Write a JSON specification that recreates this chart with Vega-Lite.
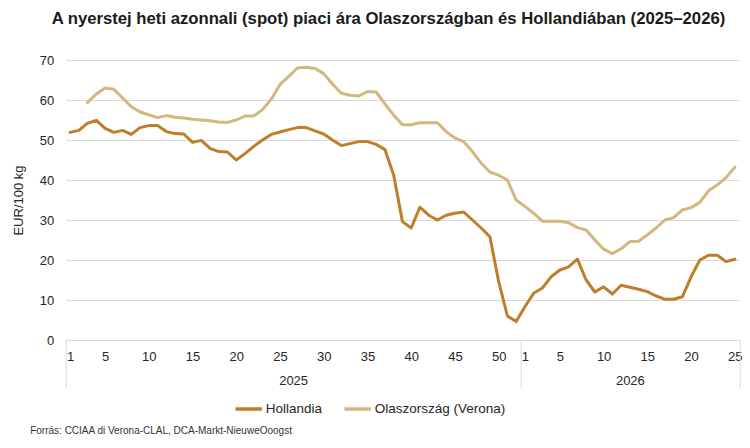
{
  "$schema": "https://vega.github.io/schema/vega-lite/v6.json",
  "width": 673.5,
  "height": 280,
  "autosize": {"type": "none"},
  "padding": {"left": 65.7, "top": 60, "right": 10.8, "bottom": 108},
  "background": "white",
  "config": {
    "font": "Liberation Sans",
    "view": {"stroke": null},
    "axis": {"labelFont": "Liberation Sans", "titleFont": "Liberation Sans"},
    "legend": {"labelFont": "Liberation Sans"}
  },
  "title": {
    "text": "A nyerstej heti azonnali (spot) piaci ára Olaszországban és Hollandiában (2025–2026)",
    "font": "Liberation Sans",
    "fontSize": 16.7,
    "fontWeight": "bold",
    "color": "#1a1a1a",
    "anchor": "middle",
    "dx": -14,
    "offset": 26
  },
  "data": {
    "values": [
      {"idx": 1, "series": "Hollandia", "value": 51.9},
      {"idx": 2, "series": "Hollandia", "value": 52.4},
      {"idx": 3, "series": "Hollandia", "value": 54.2},
      {"idx": 4, "series": "Hollandia", "value": 54.9},
      {"idx": 5, "series": "Hollandia", "value": 52.9},
      {"idx": 6, "series": "Hollandia", "value": 51.9},
      {"idx": 7, "series": "Hollandia", "value": 52.4},
      {"idx": 8, "series": "Hollandia", "value": 51.4},
      {"idx": 9, "series": "Hollandia", "value": 53.1},
      {"idx": 10, "series": "Hollandia", "value": 53.6},
      {"idx": 11, "series": "Hollandia", "value": 53.6},
      {"idx": 12, "series": "Hollandia", "value": 52.1},
      {"idx": 13, "series": "Hollandia", "value": 51.6},
      {"idx": 14, "series": "Hollandia", "value": 51.5},
      {"idx": 15, "series": "Hollandia", "value": 49.4},
      {"idx": 16, "series": "Hollandia", "value": 49.9},
      {"idx": 17, "series": "Hollandia", "value": 47.9},
      {"idx": 18, "series": "Hollandia", "value": 47.1},
      {"idx": 19, "series": "Hollandia", "value": 47.0},
      {"idx": 20, "series": "Hollandia", "value": 45.0},
      {"idx": 21, "series": "Hollandia", "value": 46.6},
      {"idx": 22, "series": "Hollandia", "value": 48.4},
      {"idx": 23, "series": "Hollandia", "value": 50.0},
      {"idx": 24, "series": "Hollandia", "value": 51.4},
      {"idx": 25, "series": "Hollandia", "value": 52.0},
      {"idx": 26, "series": "Hollandia", "value": 52.6},
      {"idx": 27, "series": "Hollandia", "value": 53.1},
      {"idx": 28, "series": "Hollandia", "value": 53.1},
      {"idx": 29, "series": "Hollandia", "value": 52.3},
      {"idx": 30, "series": "Hollandia", "value": 51.5},
      {"idx": 31, "series": "Hollandia", "value": 50.0},
      {"idx": 32, "series": "Hollandia", "value": 48.6},
      {"idx": 33, "series": "Hollandia", "value": 49.1},
      {"idx": 34, "series": "Hollandia", "value": 49.6},
      {"idx": 35, "series": "Hollandia", "value": 49.6},
      {"idx": 36, "series": "Hollandia", "value": 48.9},
      {"idx": 37, "series": "Hollandia", "value": 47.6},
      {"idx": 38, "series": "Hollandia", "value": 41.2},
      {"idx": 39, "series": "Hollandia", "value": 29.6},
      {"idx": 40, "series": "Hollandia", "value": 28.0},
      {"idx": 41, "series": "Hollandia", "value": 33.2},
      {"idx": 42, "series": "Hollandia", "value": 31.2},
      {"idx": 43, "series": "Hollandia", "value": 30.0},
      {"idx": 44, "series": "Hollandia", "value": 31.2},
      {"idx": 45, "series": "Hollandia", "value": 31.7},
      {"idx": 46, "series": "Hollandia", "value": 32.0},
      {"idx": 47, "series": "Hollandia", "value": 30.0},
      {"idx": 48, "series": "Hollandia", "value": 28.0},
      {"idx": 49, "series": "Hollandia", "value": 25.8},
      {"idx": 50, "series": "Hollandia", "value": 14.6},
      {"idx": 51, "series": "Hollandia", "value": 6.0},
      {"idx": 52, "series": "Hollandia", "value": 4.6},
      {"idx": 53, "series": "Hollandia", "value": 8.3},
      {"idx": 54, "series": "Hollandia", "value": 11.7},
      {"idx": 55, "series": "Hollandia", "value": 13.0},
      {"idx": 56, "series": "Hollandia", "value": 15.8},
      {"idx": 57, "series": "Hollandia", "value": 17.5},
      {"idx": 58, "series": "Hollandia", "value": 18.3},
      {"idx": 59, "series": "Hollandia", "value": 20.2},
      {"idx": 60, "series": "Hollandia", "value": 15.0},
      {"idx": 61, "series": "Hollandia", "value": 12.0},
      {"idx": 62, "series": "Hollandia", "value": 13.3},
      {"idx": 63, "series": "Hollandia", "value": 11.5},
      {"idx": 64, "series": "Hollandia", "value": 13.7},
      {"idx": 65, "series": "Hollandia", "value": 13.2},
      {"idx": 66, "series": "Hollandia", "value": 12.7},
      {"idx": 67, "series": "Hollandia", "value": 12.1},
      {"idx": 68, "series": "Hollandia", "value": 11.0},
      {"idx": 69, "series": "Hollandia", "value": 10.2},
      {"idx": 70, "series": "Hollandia", "value": 10.2},
      {"idx": 71, "series": "Hollandia", "value": 10.8},
      {"idx": 72, "series": "Hollandia", "value": 15.8},
      {"idx": 73, "series": "Hollandia", "value": 20.0},
      {"idx": 74, "series": "Hollandia", "value": 21.2},
      {"idx": 75, "series": "Hollandia", "value": 21.2},
      {"idx": 76, "series": "Hollandia", "value": 19.6},
      {"idx": 77, "series": "Hollandia", "value": 20.2},
      {"idx": 3, "series": "Olaszország (Verona)", "value": 59.4},
      {"idx": 4, "series": "Olaszország (Verona)", "value": 61.5},
      {"idx": 5, "series": "Olaszország (Verona)", "value": 63.0},
      {"idx": 6, "series": "Olaszország (Verona)", "value": 62.7},
      {"idx": 7, "series": "Olaszország (Verona)", "value": 60.5},
      {"idx": 8, "series": "Olaszország (Verona)", "value": 58.3},
      {"idx": 9, "series": "Olaszország (Verona)", "value": 57.0},
      {"idx": 10, "series": "Olaszország (Verona)", "value": 56.3},
      {"idx": 11, "series": "Olaszország (Verona)", "value": 55.6},
      {"idx": 12, "series": "Olaszország (Verona)", "value": 56.1},
      {"idx": 13, "series": "Olaszország (Verona)", "value": 55.7},
      {"idx": 14, "series": "Olaszország (Verona)", "value": 55.5},
      {"idx": 15, "series": "Olaszország (Verona)", "value": 55.2},
      {"idx": 16, "series": "Olaszország (Verona)", "value": 55.0},
      {"idx": 17, "series": "Olaszország (Verona)", "value": 54.8},
      {"idx": 18, "series": "Olaszország (Verona)", "value": 54.5},
      {"idx": 19, "series": "Olaszország (Verona)", "value": 54.4},
      {"idx": 20, "series": "Olaszország (Verona)", "value": 55.0},
      {"idx": 21, "series": "Olaszország (Verona)", "value": 56.0},
      {"idx": 22, "series": "Olaszország (Verona)", "value": 56.0},
      {"idx": 23, "series": "Olaszország (Verona)", "value": 57.6},
      {"idx": 24, "series": "Olaszország (Verona)", "value": 60.2},
      {"idx": 25, "series": "Olaszország (Verona)", "value": 63.9},
      {"idx": 26, "series": "Olaszország (Verona)", "value": 65.9},
      {"idx": 27, "series": "Olaszország (Verona)", "value": 68.0},
      {"idx": 28, "series": "Olaszország (Verona)", "value": 68.2},
      {"idx": 29, "series": "Olaszország (Verona)", "value": 67.9},
      {"idx": 30, "series": "Olaszország (Verona)", "value": 66.6},
      {"idx": 31, "series": "Olaszország (Verona)", "value": 64.0},
      {"idx": 32, "series": "Olaszország (Verona)", "value": 61.7},
      {"idx": 33, "series": "Olaszország (Verona)", "value": 61.2},
      {"idx": 34, "series": "Olaszország (Verona)", "value": 61.0},
      {"idx": 35, "series": "Olaszország (Verona)", "value": 62.1},
      {"idx": 36, "series": "Olaszország (Verona)", "value": 62.0},
      {"idx": 37, "series": "Olaszország (Verona)", "value": 59.0},
      {"idx": 38, "series": "Olaszország (Verona)", "value": 56.2},
      {"idx": 39, "series": "Olaszország (Verona)", "value": 53.8},
      {"idx": 40, "series": "Olaszország (Verona)", "value": 53.8},
      {"idx": 41, "series": "Olaszország (Verona)", "value": 54.3},
      {"idx": 42, "series": "Olaszország (Verona)", "value": 54.3},
      {"idx": 43, "series": "Olaszország (Verona)", "value": 54.3},
      {"idx": 44, "series": "Olaszország (Verona)", "value": 52.1},
      {"idx": 45, "series": "Olaszország (Verona)", "value": 50.5},
      {"idx": 46, "series": "Olaszország (Verona)", "value": 49.6},
      {"idx": 47, "series": "Olaszország (Verona)", "value": 47.1},
      {"idx": 48, "series": "Olaszország (Verona)", "value": 44.2},
      {"idx": 49, "series": "Olaszország (Verona)", "value": 42.0},
      {"idx": 50, "series": "Olaszország (Verona)", "value": 41.2},
      {"idx": 51, "series": "Olaszország (Verona)", "value": 40.0},
      {"idx": 52, "series": "Olaszország (Verona)", "value": 35.0},
      {"idx": 53, "series": "Olaszország (Verona)", "value": 33.4},
      {"idx": 54, "series": "Olaszország (Verona)", "value": 31.7},
      {"idx": 55, "series": "Olaszország (Verona)", "value": 29.7},
      {"idx": 56, "series": "Olaszország (Verona)", "value": 29.7},
      {"idx": 57, "series": "Olaszország (Verona)", "value": 29.7},
      {"idx": 58, "series": "Olaszország (Verona)", "value": 29.3},
      {"idx": 59, "series": "Olaszország (Verona)", "value": 28.1},
      {"idx": 60, "series": "Olaszország (Verona)", "value": 27.5},
      {"idx": 61, "series": "Olaszország (Verona)", "value": 25.0},
      {"idx": 62, "series": "Olaszország (Verona)", "value": 22.7},
      {"idx": 63, "series": "Olaszország (Verona)", "value": 21.6},
      {"idx": 64, "series": "Olaszország (Verona)", "value": 22.8},
      {"idx": 65, "series": "Olaszország (Verona)", "value": 24.6},
      {"idx": 66, "series": "Olaszország (Verona)", "value": 24.7},
      {"idx": 67, "series": "Olaszország (Verona)", "value": 26.3},
      {"idx": 68, "series": "Olaszország (Verona)", "value": 28.0},
      {"idx": 69, "series": "Olaszország (Verona)", "value": 30.0},
      {"idx": 70, "series": "Olaszország (Verona)", "value": 30.6},
      {"idx": 71, "series": "Olaszország (Verona)", "value": 32.5},
      {"idx": 72, "series": "Olaszország (Verona)", "value": 33.1},
      {"idx": 73, "series": "Olaszország (Verona)", "value": 34.4},
      {"idx": 74, "series": "Olaszország (Verona)", "value": 37.3},
      {"idx": 75, "series": "Olaszország (Verona)", "value": 38.8},
      {"idx": 76, "series": "Olaszország (Verona)", "value": 40.6},
      {"idx": 77, "series": "Olaszország (Verona)", "value": 43.2}
    ]
  },
  "encoding": {
    "y": {
      "field": "value",
      "type": "quantitative",
      "scale": {"domain": [0, 70], "nice": false},
      "axis": {
        "values": [0, 10, 20, 30, 40, 50, 60, 70],
        "labelOverlap": false,
        "grid": true,
        "gridColor": "#d9d9d9",
        "gridWidth": 1,
        "domain": false,
        "ticks": false,
        "labelFontSize": 13,
        "labelColor": "#262626",
        "labelPadding": 12,
        "title": "EUR/100 kg",
        "titleFontSize": 13,
        "titleFontWeight": "normal",
        "titleColor": "#262626",
        "titlePadding": 14
      }
    }
  },
  "resolve": {"axis": {"x": "independent"}},
  "layer": [
    {
      "mark": {"type": "line", "strokeWidth": 3, "strokeJoin": "round", "strokeCap": "round"},
      "encoding": {
        "x": {
          "field": "idx",
          "type": "quantitative",
          "scale": {"domain": [0.5, 77.5], "nice": false, "zero": false},
          "axis": {
            "orient": "bottom",
            "values": [1, 5, 10, 15, 20, 25, 30, 35, 40, 45, 50, 53, 57, 62, 67, 72, 77],
            "labelExpr": "datum.value > 52 ? datum.value - 52 : datum.value",
            "ticks": false,
            "grid": false,
            "domain": true,
            "domainColor": "#d9d9d9",
            "domainWidth": 1,
            "labelFontSize": 13,
            "labelColor": "#262626",
            "labelPadding": 10,
            "labelFlush": false,
            "labelOverlap": false,
            "title": null
          }
        },
        "color": {
          "field": "series",
          "type": "nominal",
          "scale": {"domain": ["Hollandia", "Olaszország (Verona)"], "range": ["#BF7E2B", "#D3B87E"]},
          "legend": {
            "title": null,
            "orient": "none",
            "direction": "horizontal",
            "legendX": 168,
            "legendY": 334,
            "symbolType": "stroke",
            "symbolSize": 700,
            "symbolStrokeWidth": 3.5,
            "labelFontSize": 13.5,
            "labelColor": "#262626",
            "labelOffset": 2,
            "columnPadding": 14
          }
        }
      }
    },
    {
      "mark": {"type": "point", "opacity": 0},
      "encoding": {
        "x": {
          "field": "idx",
          "type": "quantitative",
          "axis": {
            "orient": "bottom",
            "values": [0.5, 26.5, 52.5, 65, 77.5],
            "labelExpr": "datum.value == 26.5 ? '2025' : (datum.value == 65 ? '2026' : '')",
            "ticks": true,
            "tickSize": 48,
            "tickColor": "#d9d9d9",
            "tickWidth": 1,
            "tickOpacity": {"condition": {"test": "datum.value == 26.5 || datum.value == 65", "value": 0}, "value": 1},
            "grid": false,
            "domain": false,
            "labelFontSize": 13,
            "labelColor": "#262626",
            "labelPadding": -14,
            "labelFlush": false,
            "labelOverlap": false,
            "title": "Forrás: CCIAA di Verona-CLAL, DCA-Markt-NieuweOoogst",
            "titleFontSize": 10,
            "titleFontWeight": "normal",
            "titleColor": "#333333",
            "titleAnchor": "start",
            "titleAlign": "left",
            "titleBaseline": "middle",
            "titleX": -36,
            "titleY": 90
          }
        }
      }
    }
  ]
}
